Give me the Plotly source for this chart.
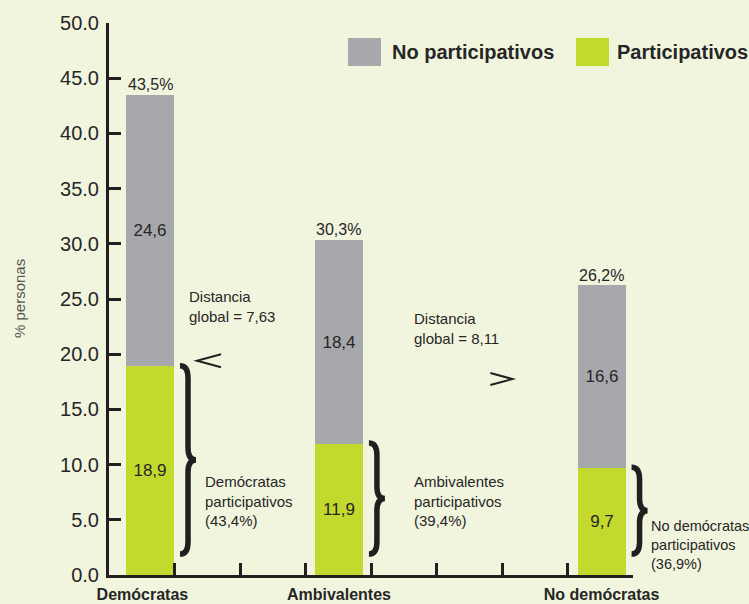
import plotly.graph_objects as go

# ---------------- data ----------------
categories = ["Demócratas", "Ambivalentes", "No demócratas"]
participativos = [18.9, 11.9, 9.7]
no_participativos = [24.6, 18.4, 16.6]
totales = [43.5, 30.3, 26.2]
pct_participativos = [43.4, 39.4, 36.9]
distancias = [7.63, 8.11]
y_ticks = [0, 5, 10, 15, 20, 25, 30, 35, 40, 45, 50]
x_ticks = [1, 2, 3, 4, 5, 6, 7, 8]

# ---------------- layout constants ----------------
x_pos = [0.626, 3.51, 7.52]
label_pos = [0.51, 3.51, 7.52]
bar_w = 0.733
BG = "#f2f5de"
GREEN = "#c3d92e"
GRAY = "#a7a8ab"
DARK = "#231f20"
TXT = "#262626"
FONT = "Liberation Sans"
XMAX, YMAX = 8.0, 50.0


def fmt(v, d=1):
    return f"{v:.{d}f}".replace(".", ",")


fig = go.Figure()
fig.add_trace(go.Bar(
    x=x_pos, y=participativos, width=bar_w, name="Participativos",
    marker=dict(color=GREEN, line=dict(width=0)),
    text=[fmt(v) for v in participativos], textposition="inside",
    insidetextanchor="middle", textangle=0,
    textfont=dict(size=17, color=TXT, family=FONT), showlegend=False))
fig.add_trace(go.Bar(
    x=x_pos, y=no_participativos, width=bar_w, name="No participativos",
    marker=dict(color=GRAY, line=dict(width=0)),
    text=[fmt(v) for v in no_participativos], textposition="inside",
    insidetextanchor="middle", textangle=0,
    textfont=dict(size=17, color=TXT, family=FONT), showlegend=False))
# invisible trace on the category axis so it is drawn
fig.add_trace(go.Scatter(x=label_pos, y=[0, 0, 0], xaxis="x2", mode="markers",
                         marker=dict(opacity=0, size=1), showlegend=False,
                         hoverinfo="skip"))

shapes = []
annotations = []

# totals above bars
for xp, t in zip(x_pos, totales):
    annotations.append(dict(xref="x", yref="y", x=xp, y=t, yanchor="bottom",
                            yshift=0, showarrow=False, text=fmt(t) + "%",
                            font=dict(size=16, color=TXT, family=FONT)))


# braces next to green segments (x in pixels from bar edge, y in paper units)
def brace_path(y_top, y_bot):
    yt, yb = y_top / YMAX, y_bot / YMAX
    ym = (yt + yb) / 2
    e, s, t = 6, 14, 22
    k = 1.1 / YMAX
    c = 0.35 / YMAX
    return (f"M {e},{yt} C {s-3},{yt} {s},{yt-c} {s},{yt-k} "
            f"L {s},{ym+k} C {s},{ym+c} {s+3},{ym} {t},{ym} "
            f"C {s+3},{ym} {s},{ym-c} {s},{ym-k} "
            f"L {s},{yb+k} C {s},{yb+c} {s-3},{yb} {e},{yb}")


for xp, g in zip(x_pos, participativos):
    shapes.append(dict(type="path", xref="paper", yref="paper", xsizemode="pixel",
                       xanchor=(xp + bar_w / 2) / XMAX, path=brace_path(g + 0.05, 1.9),
                       line=dict(color=DARK, width=5.5), layer="above"))

# comparison signs
shapes.append(dict(type="path", xref="x", yref="y", xsizemode="pixel", ysizemode="pixel",
                   xanchor=1.527, yanchor=19.4, path="M 12,6.5 L -12,0 L 12,-6.5",
                   line=dict(color=DARK, width=2)))
shapes.append(dict(type="path", xref="x", yref="y", xsizemode="pixel", ysizemode="pixel",
                   xanchor=5.99, yanchor=17.75, path="M -11,6 L 11,0 L -11,-6",
                   line=dict(color=DARK, width=2)))

# legend (manual) -- coordinates in window pixels converted to paper
PW, PH = 524.0, 552.0


def px(xp):
    return (xp - 109) / PW


def py(yp):
    return (575 - yp) / PH


shapes.append(dict(type="rect", xref="paper", yref="paper", x0=px(348), x1=px(381),
                   y0=py(66), y1=py(38), fillcolor=GRAY, line=dict(width=0)))
shapes.append(dict(type="rect", xref="paper", yref="paper", x0=px(576), x1=px(609),
                   y0=py(66), y1=py(38), fillcolor=GREEN, line=dict(width=0)))
annotations.append(dict(xref="paper", yref="paper", x=px(390), y=py(52), xanchor="left",
                        yanchor="middle", showarrow=False, text="<b>No participativos</b>",
                        font=dict(size=20, color=TXT, family=FONT)))
annotations.append(dict(xref="paper", yref="paper", x=px(615), y=py(52), xanchor="left",
                        yanchor="middle", showarrow=False, text="<b>Participativos</b>",
                        font=dict(size=20, color=TXT, family=FONT)))


# text notes
def note(x, y, text, size=15):
    annotations.append(dict(xref="paper", yref="y", x=x / XMAX, y=y, xanchor="left",
                            yanchor="middle", align="left", showarrow=False, text=text,
                            font=dict(size=size, color=TXT, family=FONT)))


note(1.19, 24.3, f"Distancia<br>global = {fmt(distancias[0], 2)}")
note(4.63, 22.3, f"Distancia<br>global = {fmt(distancias[1], 2)}")
note(1.44, 6.7, f"{categories[0]}<br>participativos<br>({fmt(pct_participativos[0])}%)")
note(4.63, 6.66, f"{categories[1]}<br>participativos<br>({fmt(pct_participativos[1])}%)")
note(8.24, 2.72, f"{categories[2]}<br>participativos<br>({fmt(pct_participativos[2])}%)", 14.5)

# y-axis title
annotations.append(dict(xref="paper", yref="paper", x=px(19), y=py(299), xanchor="center",
                        yanchor="middle", textangle=-90, showarrow=False, text="% personas",
                        font=dict(size=15, color="#555555", family=FONT)))

fig.update_layout(
    width=749, height=604,
    margin=dict(l=109, r=116, t=23, b=29, pad=0, autoexpand=False),
    paper_bgcolor=BG, plot_bgcolor=BG,
    barmode="stack", bargap=0,
    showlegend=False,
    font=dict(family=FONT, color=TXT),
    xaxis=dict(range=[0, XMAX], tickvals=x_ticks, showticklabels=False, ticks="inside",
               ticklen=12, tickwidth=3, tickcolor=DARK, showline=True, linewidth=3,
               linecolor=DARK, showgrid=False, zeroline=False, fixedrange=True,
               automargin=False),
    xaxis2=dict(range=[0, XMAX], overlaying="x", anchor="y", side="bottom",
                tickvals=label_pos, ticktext=[f"<b>{c}</b>" for c in categories],
                ticks="", showline=False, showgrid=False, zeroline=False,
                ticklabelstandoff=8, automargin=False,
                tickfont=dict(size=16, color=TXT, family=FONT)),
    yaxis=dict(range=[0, YMAX], tickvals=y_ticks, tickformat=".1f", ticks="inside",
               ticklen=12, tickwidth=3, tickcolor=DARK, showline=True, linewidth=3,
               linecolor=DARK, showgrid=False, zeroline=False, ticklabelstandoff=3,
               automargin=False,
               tickfont=dict(size=20, color=TXT, family=FONT)),
    shapes=shapes,
    annotations=annotations,
)

fig.write_html(
    "out.html",
    config={"displayModeBar": False},
    post_script="document.body.style.margin='0';document.body.style.overflow='hidden';",
)
